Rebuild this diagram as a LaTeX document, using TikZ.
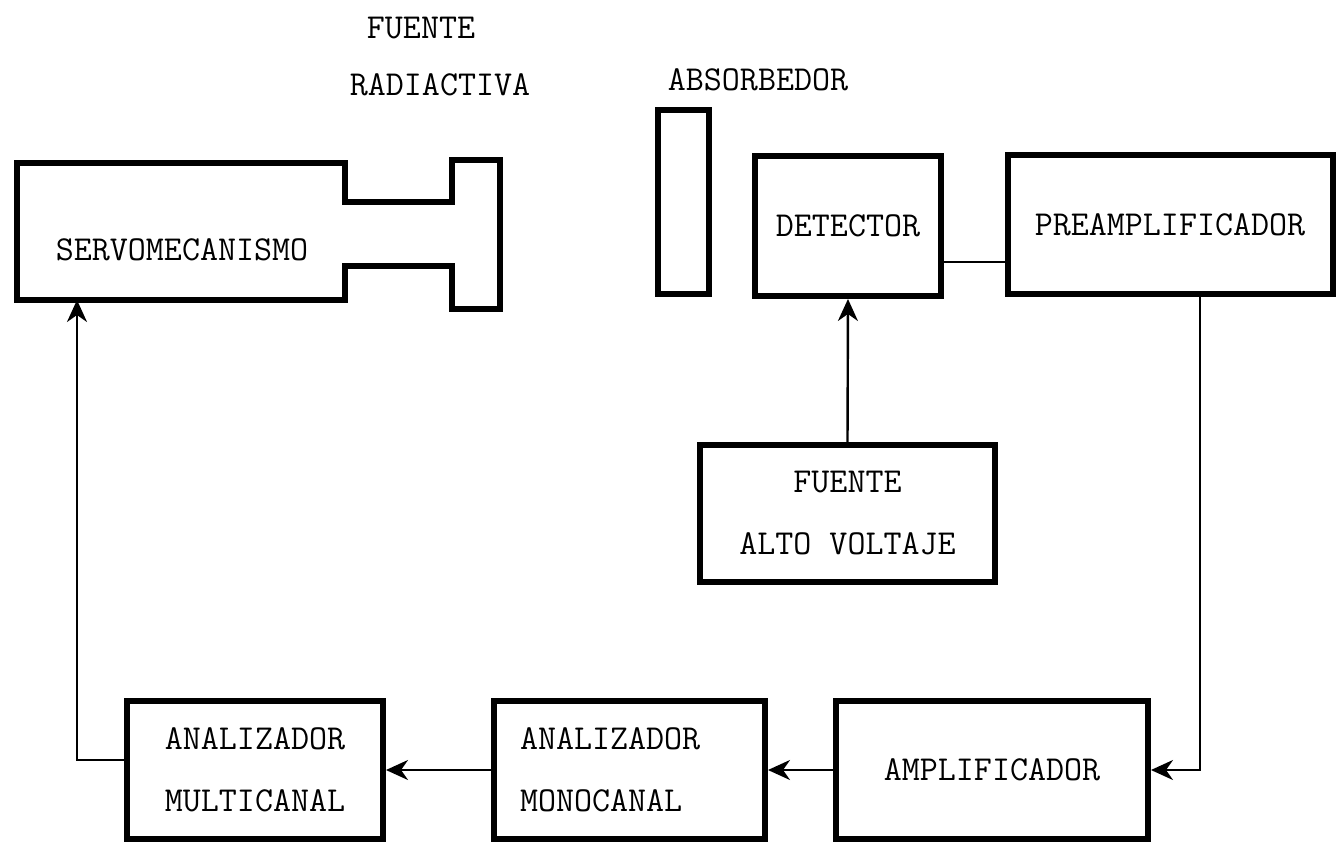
\documentclass[tikz,border=0pt]{standalone}
\usepackage{fontspec}
\usetikzlibrary{arrows.meta}
\begin{document}
\begin{tikzpicture}[x=1pt,y=-1pt,
  txt/.style={font=\ttfamily\fontsize{35}{62}\selectfont\addfontfeatures{FakeBold=1.5}, inner sep=0pt},
  blk/.style={draw, line width=6pt, rectangle, inner sep=0pt, txt},
  conn/.style={line width=2.4pt},
  arr/.style={conn, -{Stealth[length=22pt,width=20pt,inset=7pt]}}]
\useasboundingbox (0,0) rectangle (1339,846);
% servomechanism outline
\draw[line width=6pt, line join=miter] (17,163) -- (345,163) -- (345,202) -- (452,202) -- (452,160) -- (500,160) -- (500,309) -- (452,309) -- (452,266) -- (345,266) -- (345,300) -- (17,300) -- cycle;
\node[txt] (servo) at (182,250) {SERVOMECANISMO};
\coordinate (sin) at (77,300);
% labels
\node[txt] (fr1) at (421,28) {FUENTE};
\node[txt] (fr2) at (440,85) {RADIACTIVA};
\node[txt] (abl) at (758,80) {ABSORBEDOR};
% absorber
\node[blk, minimum width=51pt, minimum height=184pt] (abs) at (683.5,202) {};
% boxes
\node[blk, minimum width=186pt, minimum height=140pt] (det) at (848,226) {DETECTOR};
\node[blk, minimum width=325pt, minimum height=139pt] (pre) at (1170,224.5) {PREAMPLIFICADOR};
\node[blk, minimum width=295pt, minimum height=137pt, align=center] (fav) at (847.5,513.5) {FUENTE\\ALTO VOLTAJE};
\node[blk, minimum width=312pt, minimum height=138pt] (amp) at (992,770) {AMPLIFICADOR};
\node[blk, minimum width=271pt, minimum height=138pt, text width=219pt, align=left] (mono) at (629.5,770) {ANALIZADOR\\MONOCANAL};
\node[blk, minimum width=256pt, minimum height=138pt, align=center] (mult) at (255,770) {ANALIZADOR\\MULTICANAL};
% connectors
\coordinate (ly) at (0,262);
\coordinate (px) at (1200,0);
\draw[conn] (det.east |- ly) -- (pre.west |- ly);
\draw[arr] (fav.north) -- (det.south);
\draw[arr] (pre.south -| px) |- (amp.east);
\draw[arr] (amp.west) -- (mono.east);
\draw[arr] (mono.west) -- (mult.east);
\draw[arr] ([yshift=10pt]mult.west) -| (sin);
\end{tikzpicture}
\end{document}
